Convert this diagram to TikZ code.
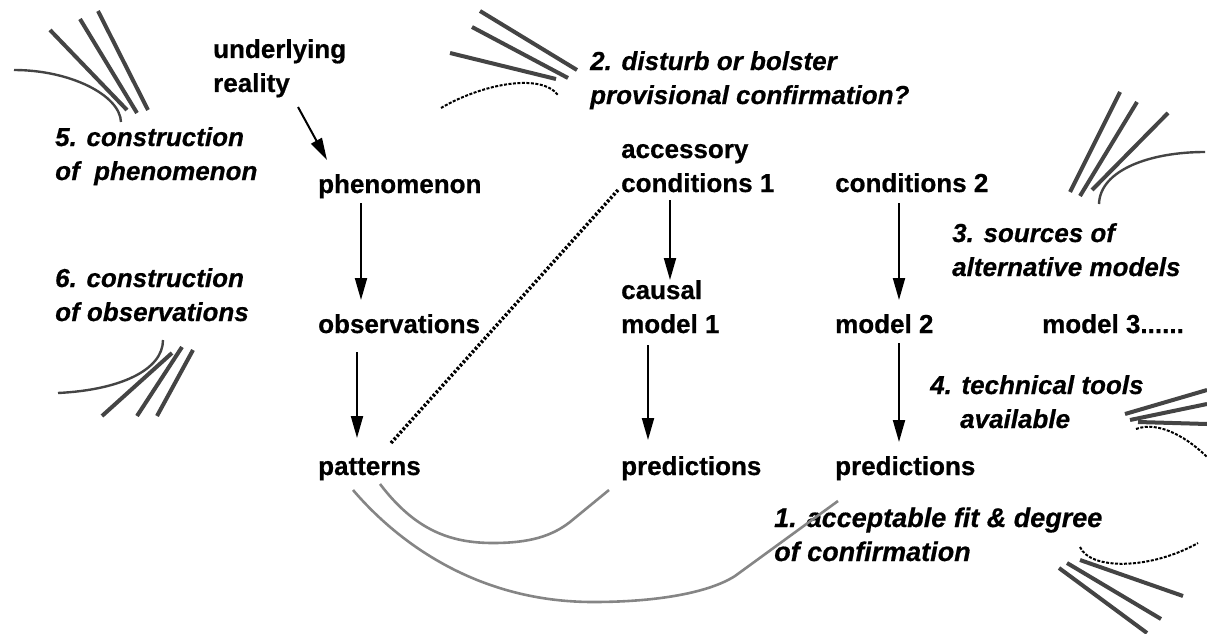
\documentclass[tikz,border=0pt]{standalone}
\usepackage{fontspec}
\setmainfont{Liberation Sans}[BoldFeatures={FakeBold=0.6}, BoldItalicFeatures={FakeBold=0.6}]
\usetikzlibrary{arrows.meta,calc}
\definecolor{fanc}{HTML}{444444}
\definecolor{arcc}{HTML}{858585}
\begin{document}
\begin{tikzpicture}[x=1pt,y=-1pt,
  lab/.style={anchor=base west, inner sep=0pt, align=left, font=\fontsize{26}{34}\selectfont\bfseries},
  note/.style={anchor=base west, inner sep=0pt, align=left, font=\fontsize{26}{34}\selectfont\bfseries\itshape},
  arr/.style={draw=black, line width=2pt, -{Triangle[length=22pt,width=12pt]}},
  fan/.style={draw=fanc, line width=4pt},
  fancurve/.style={draw=fanc, line width=2.4pt},
  dcurve/.style={draw=black, line width=2pt, dash pattern=on 3pt off 1.5pt},
  arc/.style={draw=arcc, line width=2.6pt},
  hatch/.style={draw=black, line width=3.5pt, dash pattern=on 2.5pt off 2pt}]
\useasboundingbox (0,0) rectangle (1207,634);

% main nodes (anchor = baseline of the last line)
\node[lab] (ur) at (213,92) {underlying\\reality};
\node[lab] (ph) at (318,193) {phenomenon};
\node[lab] (ob) at (318,333) {observations};
\node[lab] (pa) at (318,475) {patterns};
\node[lab] (ac) at (621,192) {accessory\\conditions 1};
\node[lab] (c2) at (835,192) {conditions 2};
\node[lab] (m1) at (621,333) {causal\\model 1};
\node[lab] (m2) at (835,333) {model 2};
\node[lab] (m3) at (1042,333) {model 3......};
\node[lab] (p1) at (621,475) {predictions};
\node[lab] (p2) at (835,475) {predictions};

% annotation labels
\node[note] (n5) at (55,180) {5. construction\\of\ \ phenomenon};
\node[note] (n6) at (55,321) {6. construction\\of observations};
\node[note] (n2) at (590,104) {2. disturb or bolster\\provisional confirmation?};
\node[note] (n3) at (952,276) {3. sources of\\alternative models};
\node[note] (n4) at (930,428) {4. technical tools\\\hspace*{30pt}available};
\node[note, font=\fontsize{27}{34}\selectfont\bfseries\itshape] (n1) at (774,561) {1. acceptable fit \& degree\\of confirmation};

% arrows
\draw[arr] ($(ur.base west)+(85,15)$) -- ($(ph.base west)+(9,-33)$);
\draw[arr] ($(ph.base west)+(43,10)$) -- ($(ob.base west)+(43,-33)$);
\draw[arr] ($(ob.base west)+(39,19)$) -- ($(pa.base west)+(39,-37)$);
\draw[arr] ($(ac.base west)+(49,8)$) -- ($(m1.base west)+(49,-53)$);
\draw[arr] ($(c2.base west)+(64,11)$) -- ($(m2.base west)+(64,-33)$);
\draw[arr] ($(m1.base west)+(27,12)$) -- ($(p1.base west)+(27,-35)$);
\draw[arr] ($(m2.base west)+(64,10)$) -- ($(p2.base west)+(64,-33)$);

% hatched link
\draw[hatch] ($(pa.base west)+(73,-32)$) -- ($(ac.base west)+(-3,-2)$);

% bottom arcs
\coordinate (a1s) at ($(pa.base west)+(62,9)$);
\coordinate (a1e) at ($(p1.base west)+(-12,15)$);
\coordinate (a2s) at ($(pa.base west)+(35,15)$);
\coordinate (a2e) at ($(p2.base west)+(3,26)$);
\draw[arc] (a1s) .. controls (415,530) and (450,543) .. (493,543)
  .. controls (530,543) and (552,536) .. (570,522) -- (a1e);
\draw[arc] (a2s) .. controls (400,545) and (480,602) .. (593,602)
  .. controls (660,602) and (710,592) .. (735,576) -- (a2e);

% fan: top left
\draw[fan] (50,30) -- (127,110);
\draw[fan] (80,19) -- (137,113);
\draw[fan] (98,11) -- (148,110);
\draw[fancurve] (14,70) .. controls (70,70) and (120,95) .. (121,122);

% fan: top middle
\draw[fan] (480,11) -- (577,70);
\draw[fan] (472,27) -- (568,78);
\draw[fan] (450,53) -- (556,79);
\draw[dcurve] (441,108) .. controls (480,85) and (540,72) .. (558,95);

% fan: right upper
\draw[fan] (1120,92) -- (1070,192);
\draw[fan] (1137,102) -- (1080,196);
\draw[fan] (1168,113) -- (1092,190);
\draw[fancurve] (1099,204) .. controls (1100,170) and (1150,152) .. (1205,152);

% fan: right middle
\draw[fan] (1125,414) -- (1207,390);
\draw[fan] (1130,420) -- (1207,404);
\draw[fan] (1138,422) -- (1207,424);
\draw[dcurve] (1136,429) .. controls (1160,420) and (1190,440) .. (1207,457);

% fan: bottom right
\draw[dcurve] (1080,547) .. controls (1090,570) and (1150,570) .. (1198,543);
\draw[fan] (1080,560) -- (1183,596);
\draw[fan] (1067,563) -- (1161,619);
\draw[fan] (1059,568) -- (1147,633);

% fan: left lower
\draw[fancurve] (58,393) .. controls (120,390) and (163,370) .. (163,340);
\draw[fan] (172,353) -- (102,416);
\draw[fan] (182,347) -- (137,416);
\draw[fan] (193,350) -- (157,416);
\end{tikzpicture}
\end{document}
